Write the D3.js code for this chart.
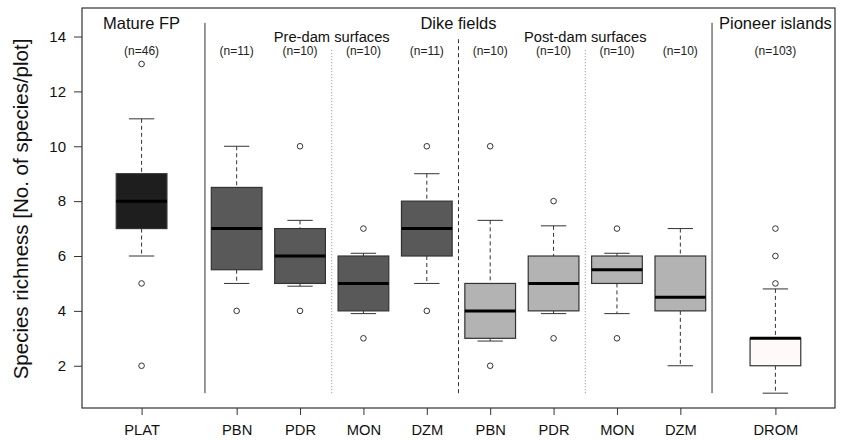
<!DOCTYPE html>
<html>
<head>
<meta charset="utf-8">
<script src="https://cdn.jsdelivr.net/npm/d3@7"></script>
<style>
  html, body { margin: 0; padding: 0; background: #fff; }
  svg { display: block; font-family: "Liberation Sans", Arial, sans-serif; }
</style>
</head>
<body>
<svg id="chart" width="844" height="441"></svg>
<script>
// ---- data ----
const categories  = ["PLAT", "PBN", "PDR", "MON", "DZM", "PBN", "PDR", "MON", "DZM", "DROM"];
const sampleSizes = [46, 11, 10, 10, 11, 10, 10, 10, 10, 103];
const whiskerLow  = [6, 5, 4.9, 3.9, 5, 2.9, 3.9, 3.9, 2, 1];
const quartile1   = [7, 5.5, 5, 4, 6, 3, 4, 5, 4, 2];
const medians     = [8, 7, 6, 5, 7, 4, 5, 5.5, 4.5, 3];
const quartile3   = [9, 8.5, 7, 6, 8, 5, 6, 6, 6, 3];
const whiskerHigh = [11, 10, 7.3, 6.1, 9, 7.3, 7.1, 6.1, 7, 4.8];
const outliers    = [[13, 5, 2], [4], [10, 4], [7, 3], [10, 4], [10, 2], [8, 3], [7, 3], [], [7, 6, 5]];
const yTicks      = [2, 4, 6, 8, 10, 12, 14];
const groupLabels = ["Mature FP", "Dike fields", "Pioneer islands"];
const subLabels   = ["Pre-dam surfaces", "Post-dam surfaces"];

// ---- layout (not data) ----
const positions   = [1, 2.5, 3.5, 4.5, 5.5, 6.5, 7.5, 8.5, 9.5, 11];
const fills       = ["#1e1e1e", "#595959", "#595959", "#595959", "#595959",
                     "#b3b3b3", "#b3b3b3", "#b3b3b3", "#b3b3b3", "#fffafa"];
const groupPos    = [1, 6, 11];
const subPos      = [4, 8];
const separators  = [
  {x: 2,  top: 14.5, dash: null,  color: "#333"},
  {x: 4,  top: 13.5, dash: "1,2", color: "#888"},
  {x: 6,  top: 14,   dash: "4,3", color: "#333"},
  {x: 8,  top: 13.5, dash: "1,2", color: "#888"},
  {x: 10, top: 14.5, dash: null,  color: "#333"}
];

const svg = d3.select("#chart");
const L = 82, R = 835, T = 8, B = 408;
const x = d3.scaleLinear().domain([0.06, 11.94]).range([L, R]);
const y = d3.scaleLinear().domain([0.46, 15.04]).range([B, T]);

// separators
svg.append("g").selectAll("line").data(separators).join("line")
  .attr("x1", d => x(d.x)).attr("x2", d => x(d.x))
  .attr("y1", d => y(1)).attr("y2", d => y(d.top))
  .attr("stroke", d => d.color).attr("stroke-width", 1)
  .attr("stroke-dasharray", d => d.dash);

// boxes
const bw = 0.4, cw = 0.2;
const g = svg.append("g");
categories.forEach((c, i) => {
  const px = x(positions[i]);
  const hw = x(positions[i] + bw) - px;
  const cwp = x(positions[i] + cw) - px;
  const col = "#333";
  g.append("line").attr("x1", px).attr("x2", px)
    .attr("y1", y(whiskerHigh[i])).attr("y2", y(quartile3[i]))
    .attr("stroke", col).attr("stroke-dasharray", "4,3");
  g.append("line").attr("x1", px).attr("x2", px)
    .attr("y1", y(quartile1[i])).attr("y2", y(whiskerLow[i]))
    .attr("stroke", col).attr("stroke-dasharray", "4,3");
  g.append("line").attr("x1", px - cwp).attr("x2", px + cwp)
    .attr("y1", y(whiskerHigh[i])).attr("y2", y(whiskerHigh[i])).attr("stroke", col);
  g.append("line").attr("x1", px - cwp).attr("x2", px + cwp)
    .attr("y1", y(whiskerLow[i])).attr("y2", y(whiskerLow[i])).attr("stroke", col);
  g.append("rect").attr("x", px - hw).attr("width", 2 * hw)
    .attr("y", y(quartile3[i])).attr("height", y(quartile1[i]) - y(quartile3[i]))
    .attr("fill", fills[i]).attr("stroke", col).attr("stroke-width", 1.2);
  g.append("line").attr("x1", px - hw).attr("x2", px + hw)
    .attr("y1", y(medians[i])).attr("y2", y(medians[i]))
    .attr("stroke", "#000").attr("stroke-width", 3);
  g.selectAll(null).data(outliers[i]).join("circle")
    .attr("cx", px).attr("cy", d => y(d)).attr("r", 2.8)
    .attr("fill", "none").attr("stroke", "#333").attr("stroke-width", 1);
});

// frame
svg.append("rect").attr("x", L).attr("y", T).attr("width", R - L).attr("height", B - T)
  .attr("fill", "none").attr("stroke", "#333").attr("stroke-width", 1.2);

// y axis
const ya = svg.append("g").attr("transform", `translate(${L},0)`)
  .call(d3.axisLeft(y).tickValues(yTicks).tickSize(8).tickPadding(8));
ya.select(".domain").remove();
ya.selectAll("line").attr("stroke", "#333");
ya.selectAll("text").attr("font-size", 15).attr("fill", "#111")
  .attr("font-family", "Liberation Sans, Arial, sans-serif");

// x axis
const xa = svg.append("g").attr("transform", `translate(0,${B})`)
  .call(d3.axisBottom(x).tickValues(positions).tickFormat((d, i) => categories[i]).tickSize(7).tickPadding(10));
xa.select(".domain").remove();
xa.selectAll("line").attr("stroke", "#333");
xa.selectAll("text").attr("font-size", 14.7).attr("fill", "#111")
  .attr("font-family", "Liberation Sans, Arial, sans-serif");

// y title
svg.append("text")
  .attr("transform", `translate(28,209) rotate(-90)`)
  .attr("text-anchor", "middle").attr("font-size", 20.5).attr("fill", "#111")
  .text("Species richness [No. of species/plot]");

// group labels
svg.append("g").selectAll("text").data(groupLabels).join("text")
  .attr("x", (d, i) => x(groupPos[i])).attr("y", 28.5)
  .attr("text-anchor", "middle").attr("font-size", 16.5).attr("fill", "#111")
  .text(d => d);
svg.append("g").selectAll("text").data(subLabels).join("text")
  .attr("x", (d, i) => x(subPos[i])).attr("y", 41.5)
  .attr("text-anchor", "middle").attr("font-size", 14.7).attr("fill", "#111")
  .text(d => d);

// n labels
svg.append("g").selectAll("text").data(sampleSizes).join("text")
  .attr("x", (d, i) => x(positions[i])).attr("y", 55.3)
  .attr("text-anchor", "middle").attr("font-size", 12).attr("fill", "#222")
  .text(d => `(n=${d})`);
</script>
</body>
</html>
